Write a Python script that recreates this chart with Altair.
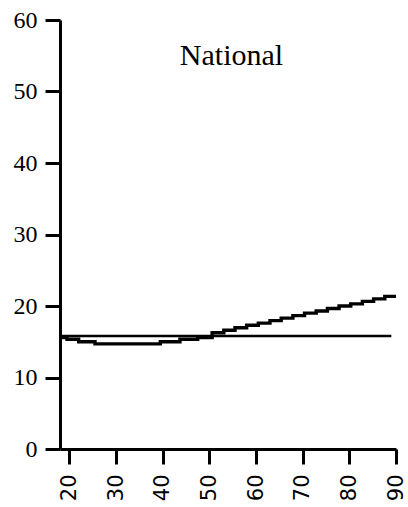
import altair as alt
import pandas as pd

# Age-specific series (step changes) and the flat national reference level
step_ages = [18, 19.5, 22, 25.5, 39.5, 43.7, 47.5, 50.6, 53.1, 55.5, 58, 60.5,
             63, 65.4, 67.9, 70.4, 72.9, 75.3, 77.8, 80.3, 82.8, 85.2, 87.6, 90]
step_values = [15.6, 15.35, 15.0, 14.7, 15.0, 15.35, 15.6, 16.25, 16.6, 16.95,
               17.3, 17.6, 17.95, 18.3, 18.65, 19.0, 19.3, 19.65, 20.0, 20.3,
               20.65, 21.0, 21.35, 21.35]
flat_ages = [18, 89]
flat_values = [15.8, 15.8]

x_ticks = [20, 30, 40, 50, 60, 70, 80, 90]
y_ticks = [0, 10, 20, 30, 40, 50, 60]
panel_title = "National"

steps = pd.DataFrame({"age": step_ages, "value": step_values})
flat = pd.DataFrame({"age": flat_ages, "value": flat_values})

x_scale = alt.Scale(domain=[18, 90], nice=False, zero=False)
y_scale = alt.Scale(domain=[0, 60], nice=False)

flat_line = alt.Chart(flat).mark_line(color="black", strokeWidth=2.4).encode(
    x=alt.X("age:Q", scale=x_scale, axis=alt.Axis(values=x_ticks, title=None)),
    y=alt.Y("value:Q", scale=y_scale, axis=alt.Axis(values=y_ticks, title=None)),
)

step_line = alt.Chart(steps).mark_line(
    color="black", strokeWidth=3.4, interpolate="step-after"
).encode(
    x=alt.X("age:Q", scale=x_scale),
    y=alt.Y("value:Q", scale=y_scale),
)

title_text = alt.Chart(pd.DataFrame({"label": [panel_title]})).mark_text(
    font="Liberation Serif", fontSize=30, color="black",
    align="center", baseline="alphabetic"
).encode(
    x=alt.datum(54.75, scale=x_scale),
    y=alt.datum(53.7, scale=y_scale),
    text="label:N",
)

chart = alt.layer(flat_line, step_line, title_text).properties(
    width=336,
    height=429,
    autosize=alt.AutoSizeParams(type="none"),
    padding={"left": 60, "top": 20, "right": 12, "bottom": 58},
    background="white",
).configure_view(
    stroke=None
).configure_axis(
    grid=False, tickSize=15, tickWidth=3, tickColor="black",
    domainWidth=3, domainColor="black", labelColor="black", title=None
).configure_axisX(
    labelAngle=-90, labelFont="DejaVu Sans", labelFontSize=21, labelPadding=10
).configure_axisY(
    labelFont="Liberation Serif", labelFontSize=24, labelPadding=8
)

chart.save("out.html", embed_options={"renderer": "svg", "actions": False})
